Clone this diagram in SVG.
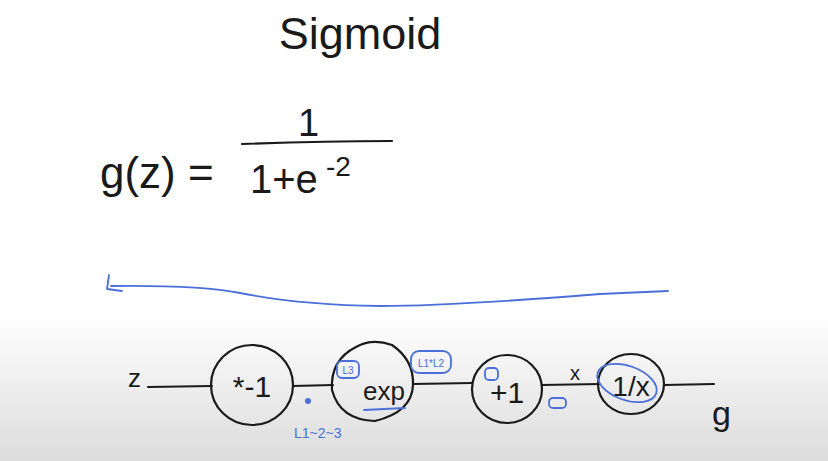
<svg xmlns="http://www.w3.org/2000/svg" width="828" height="461" viewBox="0 0 828 461">
<defs>
<linearGradient id="bg" x1="0" y1="0" x2="0" y2="1">
<stop offset="0" stop-color="#ffffff"/>
<stop offset="0.68" stop-color="#ffffff"/>
<stop offset="1" stop-color="#dcdcdc"/>
</linearGradient>
</defs>
<style>
.ink{fill:none;stroke:#1a1a1a;stroke-width:2.2;stroke-linecap:round;stroke-linejoin:round}
.blue{fill:none;stroke:#4a6fd8;stroke-width:1.8;stroke-linecap:round;stroke-linejoin:round}
.t{font-family:"Liberation Sans",Arial,sans-serif;fill:#1a1a1a}
.bt{font-family:"Liberation Sans",Arial,sans-serif;fill:#4a6fd8}
</style>
<rect width="828" height="461" fill="url(#bg)"/>
<text class="t" x="360" y="49" font-size="45" text-anchor="middle">Sigmoid</text>
<g id="formula">
<text class="t" x="100" y="188" font-size="44" font-weight="300">g(z) =</text>
<path class="ink" d="M242 144 Q320 141 392 141"/>
<text class="t" x="298" y="136" font-size="38">1</text>
<text class="t" x="250" y="193" font-size="40">1+e</text>
<text class="t" x="326" y="176" font-size="28">-2</text>
</g>
<path class="blue" d="M109 275 L107 289 L122 291 M111 286 Q200 285 240 293 Q300 305 380 306 Q450 306 600 294 L668 291"/>
<g id="connectors">
<path class="ink" d="M148 387 L212 386"/>
<path class="ink" d="M293 386 L333 385"/>
<path class="ink" d="M413 384 L472 383"/>
<path class="ink" d="M542 385 L600 384"/>
<path class="ink" d="M664 385 L714 384"/>
</g>
<g id="z"><text class="t" x="128" y="387" font-size="26">z</text></g>
<g id="node-neg">
<ellipse class="ink" cx="252" cy="385" rx="41" ry="40"/>
<text class="t" x="252" y="397" font-size="30" text-anchor="middle">*-1</text>
</g>
<g id="node-exp">
<path class="ink" d="M356 347 Q372 338 392 345 Q414 360 413 385 Q412 412 375 421 Q340 420 332 390 Q330 360 356 347 Z"/>
<text class="t" x="384" y="400" font-size="26" text-anchor="middle">exp</text>
<rect class="blue" x="337" y="361" width="22" height="17" rx="5"/>
<text class="bt" x="348" y="374" font-size="10" text-anchor="middle">L3</text>
<path class="blue" d="M364 410 L405 408"/>
</g>
<g id="annot">
<circle cx="308" cy="401" r="3" fill="#4a6fd8"/>
<text class="bt" x="294" y="438" font-size="14">L1~2~3</text>
<rect class="blue" x="411" y="351" width="40" height="22" rx="8"/>
<text class="bt" x="431" y="367" font-size="10" text-anchor="middle">L1*L2</text>
<rect class="blue" x="549" y="398" width="17" height="10" rx="4"/>
<text class="t" x="575" y="380" font-size="20" text-anchor="middle">x</text>
</g>
<g id="node-plus1">
<ellipse class="ink" cx="507" cy="389" rx="35" ry="34"/>
<text class="t" x="507" y="403" font-size="30" text-anchor="middle">+1</text>
<rect class="blue" x="485" y="368" width="13" height="12" rx="4"/>
</g>
<g id="node-inv">
<ellipse class="ink" cx="631" cy="384" rx="33" ry="30"/>
<text class="t" x="631" y="396" font-size="28" text-anchor="middle">1/x</text>
<ellipse class="blue" cx="627" cy="383" rx="31" ry="17" transform="rotate(20 627 383)"/>
</g>
<g id="g"><text class="t" x="712" y="425" font-size="34">g</text></g>
</svg>
